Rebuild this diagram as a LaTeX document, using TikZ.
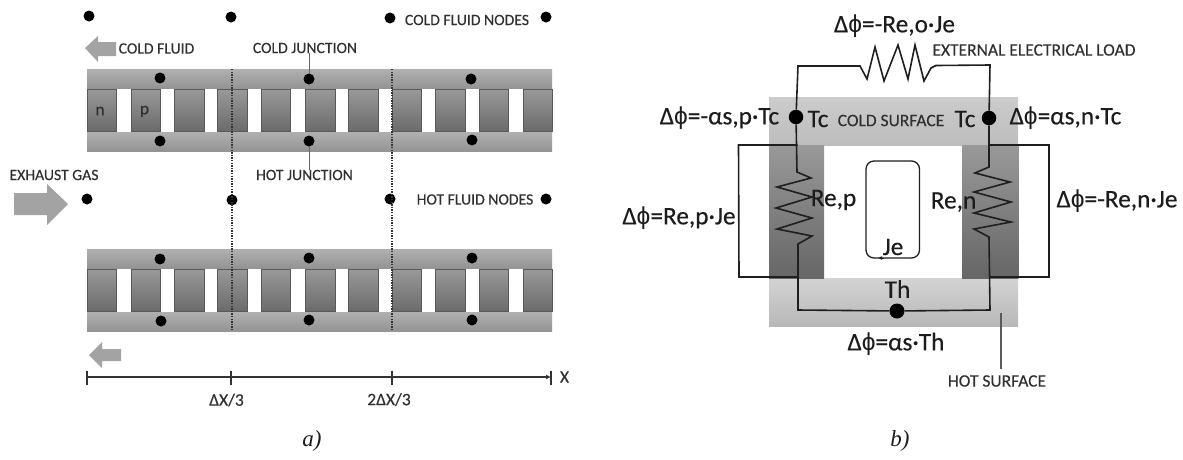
\documentclass[tikz,border=0pt]{standalone}
\usepackage{fontspec}
\setmainfont{Carlito}[FakeBold=0.25]
\newfontfamily\plainfont{Carlito}[FakeBold=0.3]
\newfontfamily\phifont{Liberation Sans}
\newfontfamily\capfont{Liberation Serif}
\newcommand{\ph}{{\phifont\fontsize{24.5}{25}\selectfont ϕ}}
\usetikzlibrary{arrows.meta}
\definecolor{txtsmall}{HTML}{303030}
\definecolor{txtbig}{HTML}{1C1C1C}
\tikzset{
 x=1pt,y=-1pt,
 small/.style={inner sep=0pt,text=txtsmall,font=\plainfont\fontsize{15.7}{16}\selectfont},
 mid/.style={inner sep=0pt,text=txtsmall,font=\plainfont\fontsize{17.5}{18}\selectfont},
 big/.style={inner sep=0pt,text=txtbig,font=\plainfont\fontsize{25.3}{25}\selectfont},
 capt/.style={inner sep=0pt,text=txtbig,font=\capfont\itshape\fontsize{23}{23}\selectfont},
 dot/.style={circle,fill=black,inner sep=0pt,minimum size=#1},
 dot/.default=11pt,
 bar/.style={top color=black!31,bottom color=black!42,draw=none},
 pellet/.style={top color=black!40,bottom color=black!58,draw=black!65,line width=.7pt},
 sidepellet/.style={top color=black!40,bottom color=black!60,draw=none},
 fluid/.style={fill=black!36,draw=none},
 wire/.style={draw=black!88,line width=1.6pt,line join=miter},
 leader/.style={draw=black!60,line width=1pt},
 cut/.style={draw=black!80,line width=1.3pt,dash pattern=on 1.3pt off 1.3pt},
 axisline/.style={draw=black!80,line width=1.2pt},
}
\newcommand{\module}[1]{%
 \fill[bar] (87,#1) rectangle (552,#1+19);
 \fill[bar] (87,#1+63) rectangle (552,#1+82);
 \foreach \a/\b in {87/116,131/160,174/204,217/247,261/290,305/335,348/378,392/421,435/465,479/508,523/552}
  \path[pellet] (\a,#1+20) rectangle (\b,#1+62);
}
\begin{document}
\begin{tikzpicture}
\useasboundingbox (0,0) rectangle (1183,459);
% ---------- a) ----------
\module{69}
\module{249}
% fluid arrows
\fill[fluid] (85,48) -- (98,36) -- (98,42) -- (116,42) -- (116,56) -- (98,56) -- (98,62) -- cycle;
\fill[fluid] (68,204) -- (47,184) -- (47,193) -- (14,193) -- (14,215) -- (47,215) -- (47,225) -- cycle;
\fill[fluid] (89,355) -- (102,342) -- (102,349) -- (121,349) -- (121,361) -- (102,361) -- (102,368) -- cycle;
% fluid nodes
\node[dot] (c1) at (89,16) {};
\node[dot] (c2) at (231,17) {};
\node[dot] (c3) at (390,18) {};
\node[dot] (c4) at (546,17) {};
\node[dot] (h1) at (87,199) {};
\node[dot] (h2) at (232,200) {};
\node[dot] (h3) at (390,199) {};
\node[dot] (h4) at (546,199) {};
% junction nodes
\node[dot] (j1) at (160,78) {};
\node[dot] (j2) at (160,141) {};
\node[dot] (j3) at (309,79) {};
\node[dot] (j4) at (309,141) {};
\node[dot] (j5) at (471,79) {};
\node[dot] (j6) at (472,140) {};
\node[dot] (j7) at (160,259) {};
\node[dot] (j8) at (161,321) {};
\node[dot] (j9) at (309,258) {};
\node[dot] (j10) at (309,320) {};
\node[dot] (j11) at (472,258) {};
\node[dot] (j12) at (472,320) {};
% section lines
\coordinate (s1t) at (232,69); \coordinate (s1b) at (232,331);
\coordinate (s2t) at (392,69); \coordinate (s2b) at (392,331);
\path[cut] (s1t) -- (s1b);
\path[cut] (s2t) -- (s2b);
% labels a
\node[small] (lcf) at (156.5,48.5) {COLD FLUID};
\node[small] (lcj) at (305,48) {COLD JUNCTION};
\node[small] (lhj) at (304.5,175) {HOT JUNCTION};
\node[small] (lcn) at (467,20) {COLD FLUID NODES};
\node[small] (lhn) at (475,199.5) {HOT FLUID NODES};
\node[small] (leg) at (54,175) {EXHAUST GAS};
\node[mid] (ln) at (100,111) {n};
\node[mid] (lp) at (144.5,111.5) {p};
\path[leader] (lcj.south -| j3) -- (j3);
\path[leader] (lhj.north -| j4) -- (j4);
% axis
\coordinate (x0) at (87,377);
\coordinate (x3) at (551,377);
\path[axisline,-{Latex[length=5pt,width=5pt]}] (x0) -- (x3);
\foreach \t in {87,231,392,551} \path[axisline] (\t,370.5) -- (\t,385);
\node[mid] (xl) at (564.5,377) {X};
\node[mid] (x1l) at (226.5,400) {ΔX/3};
\node[mid] (x2l) at (389,399.5) {2ΔX/3};
\node[capt] (capa) at (312,441) {a)};
% ---------- b) ----------
\fill[top color=black!20,bottom color=black!26] (769,97) rectangle (1018,145);
\fill[top color=black!17,bottom color=black!28] (769,278) rectangle (1018,326);
\fill[sidepellet] (769,145) rectangle (824,278);
\fill[sidepellet] (962,145) rectangle (1018.5,278);
% outer J loops
\coordinate (la) at (797.5,145); \coordinate (lb) at (738.5,145);
\coordinate (lc) at (739,277); \coordinate (ld) at (798,277);
\coordinate (ra) at (989,145); \coordinate (rb) at (1049,145);
\coordinate (rc) at (1049,277); \coordinate (rd) at (990,277);
\path[wire] (la) -- (lb) -- (lc) -- (ld);
\path[wire] (ra) -- (rb) -- (rc) -- (rd);
% nodes
\node[dot=14.5pt] (tcl) at (796,117) {};
\node[dot=14.5pt] (tcr) at (989,118) {};
\node[dot=15pt] (th) at (897,311) {};
% circuit
\coordinate (tl) at (798,66); \coordinate (tr) at (990,65);
\coordinate (bl) at (798,310); \coordinate (br) at (990,310);
\path[wire] (tcl) -- (tl) -- (860,66) -- (867,79) -- (875,47) -- (884,81) -- (898,45) -- (908,79) -- (915,45) -- (924,81) -- (931,68) -- (936,65.5) -- (tr) -- (tcr);
\path[wire] (tcl) -- (797,172) -- (811,178) -- (777,187) -- (812,197) -- (776,208) -- (812,218) -- (777,229) -- (812,236) -- (798,244) -- (bl) -- (th);
\path[wire] (tcr) -- (989,167) -- (975,173) -- (1010,182) -- (974,192) -- (1011,202) -- (974,213) -- (1011,222) -- (974,229) -- (989,237) -- (br) -- (th);
% Je loop
\path[draw=black!88,line width=1.3pt,rounded corners=8pt] (884,258) -- (866,258) -- (866,161) -- (919.5,161) -- (919.5,258) -- (880,258);
\coordinate (arrowfrom) at (884,258); \coordinate (arrowto) at (878,258);
\path[draw=black!88,line width=1pt,-{Latex[length=4pt,width=4pt]}] (arrowfrom) -- (arrowto);
% labels b
\node[big] (lo) at (894.5,26) {Δ\ph=-Re,o·Je};
\node[mid] (lext) at (1034,50) {EXTERNAL ELECTRICAL LOAD};
\node[big] (lsp) at (719.5,118) {Δ\ph=-αs,p·Tc};
\node[big] (ltc1) at (818,119) {Tc};
\node[mid] (lcs) at (891,120.5) {COLD SURFACE};
\node[big] (ltc2) at (965,119) {Tc};
\node[big] (lsn) at (1065.5,118) {Δ\ph=αs,n·Tc};
\node[big] (lrp) at (833.5,200) {Re,p};
\node[big] (lrn) at (953.5,202) {Re,n};
\node[big] (ljp) at (679,218) {Δ\ph=Re,p·Je};
\node[big] (ljn) at (1117,201) {Δ\ph=-Re,n·Je};
\node[big] (lje) at (893,247) {Je};
\node[big] (lth) at (897.5,289) {Th};
\node[big] (lst) at (896,344) {Δ\ph=αs·Th};
\node[mid] (lhs) at (997,381) {HOT SURFACE};
\coordinate (hsp) at (1001,313);
\path[draw=black!65,line width=1.3pt,shorten >=6pt] (hsp) -- (hsp |- lhs.north);
\node[capt] (capb) at (900,441) {b)};
\end{tikzpicture}
\end{document}
